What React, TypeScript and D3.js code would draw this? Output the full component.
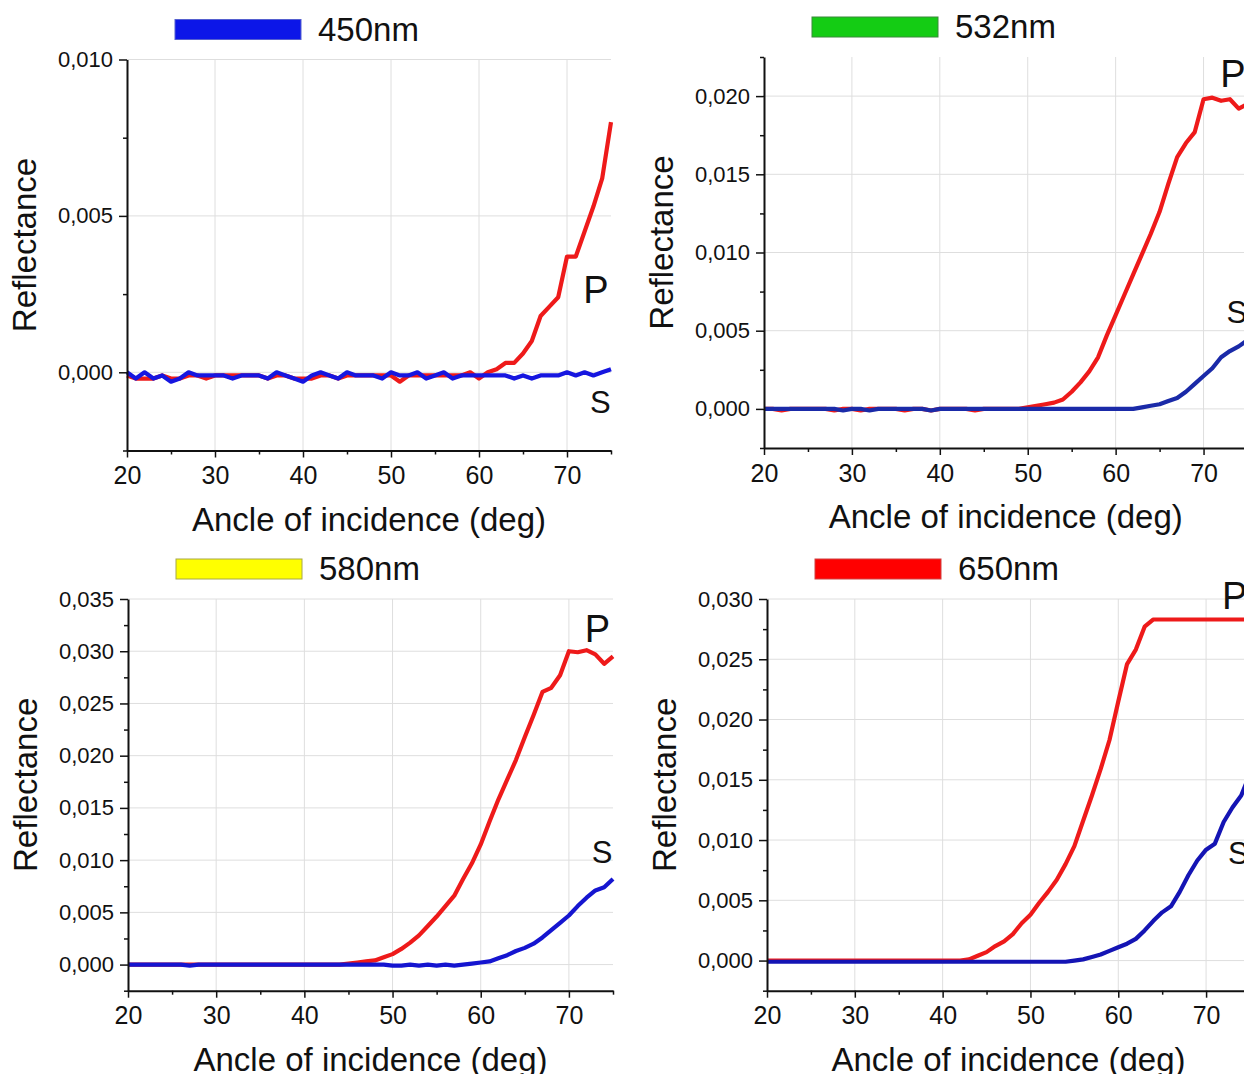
import { useRef, useEffect } from 'react';
import * as d3 from 'd3';

// angle of incidence, degrees
const angles = [
  20, 21, 22, 23, 24, 25, 26, 27, 28, 29,
  30, 31, 32, 33, 34, 35, 36, 37, 38, 39,
  40, 41, 42, 43, 44, 45, 46, 47, 48, 49,
  50, 51, 52, 53, 54, 55, 56, 57, 58, 59,
  60, 61, 62, 63, 64, 65, 66, 67, 68, 69,
  70, 71, 72, 73, 74, 75,
];

// 450nm
const p450 = [
  -0.0001, -0.0002, -0.0002, -0.0002, -0.0001, -0.0002, -0.0002, -0.0001, -0.0001, -0.0002,
  -0.0001, -0.0001, -0.0001, -0.0001, -0.0001, -0.0001, -0.0002, -0.0001, -0.0001, -0.0002,
  -0.0002, -0.0002, -0.0001, -0.0001, -0.0002, -0.0001, -0.0001, -0.0001, -0.0001, -0.0001,
  -0.0001, -0.0003, -0.0001, -0.0001, -0.0001, -0.0001, -0.0001, -0.0001, -0.0001, 0.0000,
  -0.0002, 0.0000, 0.0001, 0.0003, 0.0003, 0.0006, 0.0010, 0.0018, 0.0021, 0.0024,
  0.0037, 0.0037, 0.0045, 0.0053, 0.0062, 0.0080,
];
const s450 = [
  0.0000, -0.0002, 0.0000, -0.0002, -0.0001, -0.0003, -0.0002, 0.0000, -0.0001, -0.0001,
  -0.0001, -0.0001, -0.0002, -0.0001, -0.0001, -0.0001, -0.0002, 0.0000, -0.0001, -0.0002,
  -0.0003, -0.0001, 0.0000, -0.0001, -0.0002, 0.0000, -0.0001, -0.0001, -0.0001, -0.0002,
  0.0000, -0.0001, -0.0001, 0.0000, -0.0002, -0.0001, 0.0000, -0.0002, -0.0001, -0.0001,
  -0.0001, -0.0001, -0.0001, -0.0001, -0.0002, -0.0001, -0.0002, -0.0001, -0.0001, -0.0001,
  0.0000, -0.0001, 0.0000, -0.0001, 0.0000, 0.0001,
];

// 532nm
const p532 = [
  0.0000, 0.0000, -0.0001, 0.0000, 0.0000, 0.0000, 0.0000, 0.0000, -0.0001, 0.0000,
  0.0000, -0.0001, 0.0000, 0.0000, 0.0000, 0.0000, -0.0001, 0.0000, 0.0000, -0.0001,
  0.0000, 0.0000, 0.0000, 0.0000, -0.0001, 0.0000, 0.0000, 0.0000, 0.0000, 0.0000,
  0.0001, 0.0002, 0.0003, 0.0004, 0.0006, 0.0011, 0.0017, 0.0024, 0.0033, 0.0047,
  0.0060, 0.0073, 0.0086, 0.0099, 0.0112, 0.0126, 0.0144, 0.0161, 0.0170, 0.0177,
  0.0198, 0.0199, 0.0197, 0.0198, 0.0192, 0.0195,
];
const s532 = [
  0.0000, 0.0000, 0.0000, 0.0000, 0.0000, 0.0000, 0.0000, 0.0000, 0.0000, -0.0001,
  0.0000, 0.0000, -0.0001, 0.0000, 0.0000, 0.0000, 0.0000, 0.0000, 0.0000, -0.0001,
  0.0000, 0.0000, 0.0000, 0.0000, 0.0000, 0.0000, 0.0000, 0.0000, 0.0000, 0.0000,
  0.0000, 0.0000, 0.0000, 0.0000, 0.0000, 0.0000, 0.0000, 0.0000, 0.0000, 0.0000,
  0.0000, 0.0000, 0.0000, 0.0001, 0.0002, 0.0003, 0.0005, 0.0007, 0.0011, 0.0016,
  0.0021, 0.0026, 0.0033, 0.0037, 0.0040, 0.0044,
];

// 580nm
const p580 = [
  0.0000, 0.0000, 0.0000, 0.0000, 0.0000, 0.0000, 0.0000, 0.0000, 0.0000, 0.0000,
  0.0000, 0.0000, 0.0000, 0.0000, 0.0000, 0.0000, 0.0000, 0.0000, 0.0000, 0.0000,
  0.0000, 0.0000, 0.0000, 0.0000, 0.0000, 0.0001, 0.0002, 0.0003, 0.0004, 0.0007,
  0.0010, 0.0015, 0.0021, 0.0028, 0.0037, 0.0046, 0.0056, 0.0066, 0.0082, 0.0097,
  0.0115, 0.0137, 0.0158, 0.0177, 0.0196, 0.0218, 0.0239, 0.0261, 0.0265, 0.0277,
  0.0300, 0.0299, 0.0301, 0.0297, 0.0288, 0.0295,
];
const s580 = [
  0.0000, 0.0000, 0.0000, 0.0000, 0.0000, 0.0000, 0.0000, -0.0001, 0.0000, 0.0000,
  0.0000, 0.0000, 0.0000, 0.0000, 0.0000, 0.0000, 0.0000, 0.0000, 0.0000, 0.0000,
  0.0000, 0.0000, 0.0000, 0.0000, 0.0000, 0.0000, 0.0000, 0.0000, 0.0000, 0.0000,
  -0.0001, -0.0001, 0.0000, -0.0001, 0.0000, -0.0001, 0.0000, -0.0001, 0.0000, 0.0001,
  0.0002, 0.0003, 0.0006, 0.0009, 0.0013, 0.0016, 0.0020, 0.0026, 0.0033, 0.0040,
  0.0047, 0.0056, 0.0064, 0.0071, 0.0074, 0.0082,
];

// 650nm
const p650 = [
  0.0000, 0.0000, 0.0000, 0.0000, 0.0000, 0.0000, 0.0000, 0.0000, 0.0000, 0.0000,
  0.0000, 0.0000, 0.0000, 0.0000, 0.0000, 0.0000, 0.0000, 0.0000, 0.0000, 0.0000,
  0.0000, 0.0000, 0.0000, 0.0001, 0.0004, 0.0007, 0.0012, 0.0016, 0.0022, 0.0031,
  0.0038, 0.0048, 0.0057, 0.0067, 0.0080, 0.0095, 0.0116, 0.0137, 0.0159, 0.0183,
  0.0215, 0.0246, 0.0258, 0.0277, 0.0283, 0.0283, 0.0283, 0.0283, 0.0283, 0.0283,
  0.0283, 0.0283, 0.0283, 0.0283, 0.0283, 0.0283,
];
const s650 = [
  -0.0001, -0.0001, -0.0001, -0.0001, -0.0001, -0.0001, -0.0001, -0.0001, -0.0001, -0.0001,
  -0.0001, -0.0001, -0.0001, -0.0001, -0.0001, -0.0001, -0.0001, -0.0001, -0.0001, -0.0001,
  -0.0001, -0.0001, -0.0001, -0.0001, -0.0001, -0.0001, -0.0001, -0.0001, -0.0001, -0.0001,
  -0.0001, -0.0001, -0.0001, -0.0001, -0.0001, 0.0000, 0.0001, 0.0003, 0.0005, 0.0008,
  0.0011, 0.0014, 0.0018, 0.0025, 0.0033, 0.0040, 0.0045, 0.0057, 0.0071, 0.0083,
  0.0092, 0.0097, 0.0115, 0.0127, 0.0137, 0.0155,
];

const xMajor = [20, 30, 40, 50, 60, 70];
const xMinor = [25, 35, 45, 55, 65, 75];

const FONT = 'Liberation Sans, Arial, sans-serif';
const RED = '#ee1a1a';

const panels = [
  { name: '450nm', swatch: '#0c16e8', swatchEdge: '#5560d0', p: p450, s: s450, sColor: '#1616e0',
    yMax: 0.010, left: 127, right: 611, top: 59.5, bottom: 450.5, pAt: [71.85, 0.0022], sAt: [72.6, -0.0013] },
  { name: '532nm', swatch: '#14cc14', swatchEdge: '#3a8a3a', p: p532, s: s532, sColor: '#1a2aa8',
    yMax: 0.0225, left: 764, right: 1247.5, top: 57, bottom: 448, pAt: [71.9, 0.0206], sAt: [72.6, 0.0055] },
  { name: '580nm', swatch: '#ffff00', swatchEdge: '#a8a848', p: p580, s: s580, sColor: '#1515d0',
    yMax: 0.035, left: 128, right: 613, top: 599, bottom: 990.7, pAt: [71.8, 0.0309], sAt: [72.6, 0.0097] },
  { name: '650nm', swatch: '#ff0000', swatchEdge: '#d04040', p: p650, s: s650, sColor: '#1414b4',
    yMax: 0.030, left: 767, right: 1250, top: 599, bottom: 990.7, pAt: [71.8, 0.0292], sAt: [72.5, 0.0080] },
];

const fmt = (v) => d3.format('.3f')(v).replace('.', ',');

function Panel({ cfg }) {
  const gRef = useRef(null);

  useEffect(() => {
    const g = d3.select(gRef.current);
    g.selectAll('*').remove();

    const x = d3.scaleLinear().domain([20, 75]).range([cfg.left, cfg.right]);
    const y = d3.scaleLinear().domain([-0.0025, cfg.yMax]).range([cfg.bottom, cfg.top]);

    const all = d3.range(-0.0025, cfg.yMax + 1e-9, 0.0025).map(v => +v.toFixed(4));
    const yMajor = all.filter(v => v >= 0 && Math.abs((v / 0.005) - Math.round(v / 0.005)) < 1e-6);
    const yMinor = all.filter(v => !yMajor.includes(v));

    // grid
    g.append('g').selectAll('line').data(xMajor.slice(1)).join('line')
      .attr('x1', d => x(d)).attr('x2', d => x(d))
      .attr('y1', cfg.top).attr('y2', cfg.bottom)
      .attr('stroke', '#dedede').attr('stroke-width', 1);
    g.append('g').selectAll('line').data(yMajor).join('line')
      .attr('x1', cfg.left).attr('x2', cfg.right)
      .attr('y1', d => y(d)).attr('y2', d => y(d))
      .attr('stroke', '#dedede').attr('stroke-width', 1);

    // curves
    const line = d3.line().x((d, i) => x(angles[i])).y(d => y(d));
    g.append('path').datum(cfg.p).attr('d', line)
      .attr('fill', 'none').attr('stroke', RED).attr('stroke-width', 4.2)
      .attr('stroke-linejoin', 'round');
    g.append('path').datum(cfg.s).attr('d', line)
      .attr('fill', 'none').attr('stroke', cfg.sColor).attr('stroke-width', 4.2)
      .attr('stroke-linejoin', 'round');

    // axes
    const yAxis = g.append('g').attr('transform', `translate(${cfg.left},0)`)
      .call(d3.axisLeft(y).tickValues(yMajor).tickSize(8).tickSizeOuter(0).tickPadding(6).tickFormat(fmt));
    g.append('g').attr('transform', `translate(${cfg.left},0)`)
      .call(d3.axisLeft(y).tickValues(yMinor).tickSize(4).tickSizeOuter(0).tickFormat(() => ''))
      .call(a => a.select('.domain').remove());
    const xAxis = g.append('g').attr('transform', `translate(0,${cfg.bottom})`)
      .call(d3.axisBottom(x).tickValues(xMajor).tickSize(7).tickSizeOuter(0).tickPadding(9).tickFormat(d3.format('d')));
    g.append('g').attr('transform', `translate(0,${cfg.bottom})`)
      .call(d3.axisBottom(x).tickValues(xMinor).tickSize(4).tickSizeOuter(0).tickFormat(() => ''))
      .call(a => a.select('.domain').remove());

    g.selectAll('.domain').attr('stroke', '#111').attr('stroke-width', 2);
    g.selectAll('.tick line').attr('stroke', '#111').attr('stroke-width', 1.5);
    yAxis.selectAll('text').attr('font-size', 22).attr('font-family', FONT).attr('fill', '#111');
    xAxis.selectAll('text').attr('font-size', 25).attr('font-family', FONT).attr('fill', '#111');

    // titles
    g.append('text')
      .attr('transform', `translate(${cfg.left - 91},${(cfg.top + cfg.bottom) / 2 - 10}) rotate(-90)`)
      .attr('text-anchor', 'middle').attr('font-size', 33).attr('font-family', FONT).attr('fill', '#111')
      .text('Reflectance');
    g.append('text')
      .attr('x', (cfg.left + cfg.right) / 2).attr('y', cfg.bottom + 80)
      .attr('text-anchor', 'middle').attr('font-size', 33).attr('font-family', FONT).attr('fill', '#111')
      .text('Ancle of incidence (deg)');

    // legend swatch
    g.append('rect')
      .attr('x', cfg.left + 48).attr('y', cfg.top - 40).attr('width', 126).attr('height', 20)
      .attr('fill', cfg.swatch).attr('stroke', cfg.swatchEdge).attr('stroke-width', 1);
    g.append('text')
      .attr('x', cfg.left + 191).attr('y', cfg.top - 19)
      .attr('font-size', 33).attr('font-family', FONT).attr('fill', '#111')
      .text(cfg.name);

    // P / S labels
    g.append('text')
      .attr('x', x(cfg.pAt[0])).attr('y', y(cfg.pAt[1]))
      .attr('font-size', 38).attr('font-family', FONT).attr('fill', '#111').text('P');
    g.append('text')
      .attr('x', x(cfg.sAt[0])).attr('y', y(cfg.sAt[1]))
      .attr('font-size', 31).attr('font-family', FONT).attr('fill', '#111').text('S');
  }, [cfg]);

  return <g ref={gRef} />;
}

export default function App() {
  return (
    <svg width={1244} height={1074}
      style={{ position: 'absolute', left: 0, top: 0, display: 'block', background: '#fff' }}>
      {panels.map(c => <Panel key={c.name} cfg={c} />)}
    </svg>
  );
}
